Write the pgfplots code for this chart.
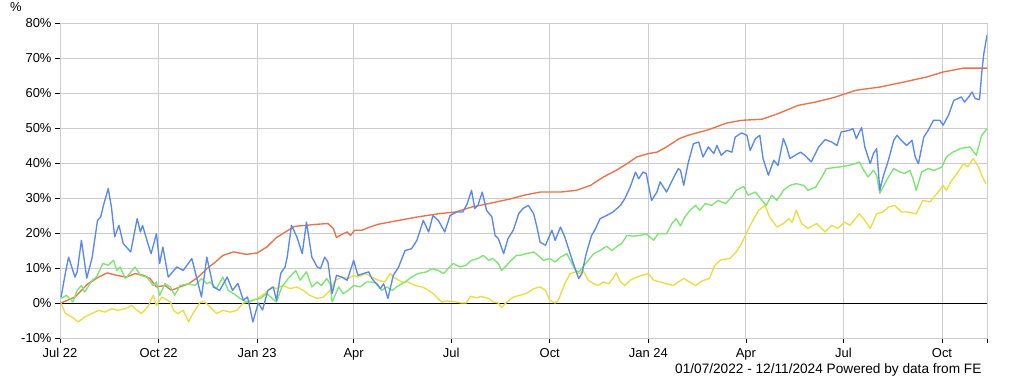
\documentclass[border=0pt]{standalone}
\usepackage{pgfplots}
\pgfplotsset{compat=1.18}
\usepackage{fontspec}
\setmainfont{Liberation Sans}
\definecolor{cblue}{RGB}{88,136,240}
\definecolor{corange}{RGB}{236,112,72}
\definecolor{cgreen}{RGB}{124,228,112}
\definecolor{cyellow}{RGB}{232,222,64}
\definecolor{cgrid}{RGB}{204,204,204}
\begin{document}
\begin{tikzpicture}
\begin{axis}[
  at={(0,0)}, anchor=south west,
  scale only axis, width=927bp, height=315bp,
  xmin=0, xmax=865, ymin=-10, ymax=80,
  ytick={-10,0,10,20,30,40,50,60,70,80},
  yticklabel={\pgfmathparse{int(\tick)}\pgfmathresult\%},
  xtick={0,92,184,274,365,457,549,640,731,823,865},
  xticklabels={Jul 22,Oct 22,Jan 23,Apr,Jul,Oct,Jan 24,Apr,Jul,Oct,},
  grid=major,
  grid style={cgrid, line width=0.9pt},
  axis line style={cgrid, line width=0.9pt},
  tick align=outside,
  xtick pos=bottom, ytick pos=left,
  major tick length=5bp,
  every tick/.style={black, line width=0.7pt},
  tick label style={font=\fontsize{13}{15}\selectfont, black},
  yticklabel style={xshift=0bp},
  xticklabel style={yshift=-2bp},
  clip=true,
  every axis plot/.append style={line width=1.35pt, line join=round},
]
\addplot[black, line width=1pt] coordinates {(0,0) (865,0)};
\addplot[corange] coordinates {
(1,0) (14,1.7) (26,5.5) (36,7.4) (44,8.6) (53,7.9) (62,7.4) (70,8.4) (78,7.9) (84,7.0)
(90,4.6) (98,5.0) (104,3.6) (112,4.6) (120,5.5) (129,7.4) (137,9.8) (145,11.7) (152,13.6)
(162,14.6) (174,13.9) (184,14.3) (193,16.0) (202,18.7) (213,20.8) (219,21.9) (230,22.2)
(240,22.5) (250,22.7) (255,21.3) (258,18.7) (263,19.6) (268,20.3) (271,19.3) (275,20.8)
(282,20.8) (289,21.7) (297,22.5) (316,23.6) (334,24.6) (353,25.5) (369,26.0) (384,27.4)
(403,28.6) (421,29.8) (433,30.8) (448,31.7) (467,31.7) (482,32.2) (495,33.6) (507,36.0)
(519,37.9) (529,39.8) (538,41.7) (549,42.7) (557,43.1) (566,44.6) (578,47.0) (586,47.9)
(605,49.5) (622,51.4) (636,52.2) (655,52.5) (670,54.1) (689,56.5) (705,57.4) (722,58.7)
(743,60.8) (765,61.7) (787,63.1) (809,64.6) (824,66.0) (843,67.1) (865,67.1)
};
\addplot[cyellow] coordinates {
(1,0) (5,-3.0) (11,-4.0) (17,-5.4) (23,-4.0) (30,-3.0) (36,-2.1) (42,-2.6) (48,-1.6)
(54,-2.1) (61,-1.6) (67,-0.7) (72,-2.1) (76,-3.0) (82,-1.1) (87,2.2) (90,-0.7) (95,1.7)
(103,0.3) (106,-2.1) (110,-3.0) (115,-2.1) (120,-5.4) (124,-3.0) (131,0.3) (135,0.3)
(140,-1.1) (146,-3.0) (152,-2.1) (159,-2.6) (165,-2.1) (171,0) (177,0.3) (184,1.3)
(191,2.7) (198,4.6) (202,4.1) (208,5.0) (215,4.1) (221,4.6) (227,3.6) (233,2.2) (240,1.3)
(246,1.7) (252,3.6) (257,6.5) (263,7.4) (269,7.0) (274,7.9) (278,7.4) (285,8.4) (291,7.4)
(297,6.5) (303,6.0) (308,8.4) (313,7.0) (319,6.0) (325,6.0) (331,5.0) (338,4.6) (344,3.6)
(350,2.2) (356,0.3) (362,0.6) (369,0.3) (375,0) (379,0) (383,1.9) (389,1.5) (393,1.9)
(400,1.3) (404,0.3) (409,0) (412,-1.3) (417,0.3) (423,1.7) (429,2.2) (435,2.7) (442,4.1)
(448,4.6) (453,3.6) (457,0.8) (462,0) (465,0.8) (468,3.1) (471,5.5) (476,8.4) (481,8.9)
(485,8.4) (488,9.3) (493,6.5) (498,5.5) (502,5.0) (507,6.0) (512,5.5) (516,7.0) (519,8.6)
(523,6.0) (527,5.0) (532,6.5) (538,7.4) (543,7.9) (549,8.4) (554,6.5) (560,6.0) (566,5.5)
(572,5.0) (582,7.0) (593,5.0) (599,6.3) (606,7.0) (611,10.8) (617,12.4) (625,12.7)
(631,14.6) (636,17.0) (641,20.3) (645,22.7) (652,26.5) (658,27.9) (662,24.6) (669,21.7)
(675,22.7) (680,24.1) (683,23.0) (687,26.5) (692,22.7) (698,21.3) (706,22.7) (714,20.3)
(720,22.2) (726,21.3) (732,23.1) (737,22.2) (746,25.5) (751,23.6) (756,21.3) (762,25.5)
(768,26.0) (773,27.4) (779,27.9) (785,26.0) (791,26.0) (799,25.5) (805,29.3) (812,28.9)
(818,31.2) (824,33.6) (827,32.2) (832,35.0) (837,37.0) (843,39.8) (847,38.9) (852,41.3)
(857,38.9) (860,36.5) (864,34.1)
};
\addplot[cgreen] coordinates {
(1,1.3) (6,2.2) (12,0.3) (16,3.6) (20,5.0) (23,3.1) (30,6.5) (34,7.4) (40,11.3) (45,10.8)
(50,12.2) (53,9.3) (56,10.3) (61,7.0) (65,8.4) (70,10.3) (75,7.9) (81,7.4) (87,5.0)
(90,6.0) (93,2.2) (98,5.5) (103,4.6) (107,2.2) (112,5.0) (120,5.5) (126,5.0) (132,7.0)
(137,5.5) (140,6.0) (146,4.1) (152,7.4) (157,3.6) (162,2.7) (168,1.3) (174,0.3) (180,0.8)
(187,1.3) (193,2.7) (198,1.3) (202,0.3) (207,4.6) (213,7.0) (220,9.3) (224,6.5) (230,8.9)
(235,4.6) (240,6.0) (244,5.0) (249,7.0) (252,5.5) (254,0.3) (260,4.6) (264,2.7) (269,3.6)
(274,5.0) (280,4.6) (286,6.0) (291,6.0) (296,5.5) (300,3.6) (305,4.6) (310,3.6) (316,5.0)
(322,6.0) (328,7.4) (334,8.4) (342,8.9) (347,9.8) (353,9.3) (358,8.4) (362,9.8) (367,11.3)
(373,10.3) (379,10.8) (384,12.2) (390,12.7) (395,13.6) (400,12.2) (404,12.7) (409,11.3)
(412,9.3) (417,10.8) (421,12.2) (426,13.6) (429,13.6) (435,14.1) (442,14.6) (446,13.6)
(451,12.2) (457,12.7) (462,11.7) (467,13.1) (473,14.1) (477,11.7) (481,9.3) (484,8.9)
(488,10.3) (493,12.2) (498,14.1) (504,15.0) (510,16.2) (515,15.0) (519,16.0) (524,17.0)
(529,19.3) (535,19.1) (541,19.3) (547,19.8) (554,17.9) (558,19.8) (566,19.8) (571,22.7)
(575,24.1) (579,22.0) (583,24.6) (588,26.5) (593,27.9) (597,26.5) (602,28.4) (608,27.9)
(614,29.3) (621,28.4) (627,30.3) (631,32.2) (638,33.3) (642,30.8) (649,31.7) (655,29.3)
(659,27.9) (664,30.8) (669,29.3) (675,32.2) (681,33.6) (687,34.1) (694,33.6) (698,32.2)
(705,33.1) (711,36.0) (715,38.4) (723,38.7) (728,38.9) (736,39.3) (742,39.8) (746,40.3)
(750,37.9) (754,36.0) (759,37.9) (762,36.5) (765,31.3) (768,33.1) (773,36.0) (778,38.4)
(784,37.4) (788,37.0) (793,37.9) (796,35.5) (799,32.2) (804,37.4) (810,38.4) (816,37.9)
(823,38.9) (827,41.7) (833,43.1) (841,44.2) (849,44.6) (855,42.2) (860,47.9) (865,49.8)
};
\addplot[cblue] coordinates {
(1,1.7) (5,8.5) (8,13.1) (14,7.4) (16,8.9) (20,17.9) (25,7.1) (30,13.0) (35,23.6) (38,24.6)
(41,28.4) (45,32.7) (48,27.4) (51,18.9) (55,22.2) (59,17.0) (66,14.6) (72,24.1) (75,20.3)
(77,22.2) (82,17.0) (85,14.1) (90,19.8) (93,11.3) (96,16.0) (101,7.4) (109,10.3) (115,9.3)
(123,12.7) (132,1.7) (137,13.1) (143,4.6) (149,3.6) (156,7.4) (161,3.6) (166,5.6) (171,0.8)
(175,1.7) (180,-5.4) (185,0) (189,-2.0) (194,3.6) (199,4.6) (202,0.8) (206,8.5) (210,10.3)
(212,13.1) (216,22.2) (221,18.9) (226,14.1) (230,23.1) (235,13.1) (240,10.3) (243,9.8)
(247,13.1) (250,11.7) (254,2.7) (258,7.9) (263,7.4) (268,6.5) (274,12.2) (278,7.9)
(283,8.4) (288,8.9) (291,7.0) (299,4.1) (302,5.5) (306,1.3) (311,7.9) (316,10.3) (322,15.0)
(328,15.5) (333,17.9) (339,23.6) (344,20.3) (348,25.0) (353,23.6) (359,20.3) (364,25.0)
(370,26.0) (376,26.0) (380,28.4) (384,32.2) (387,27.0) (390,27.9) (394,31.7) (398,26.5)
(403,24.6) (406,19.3) (409,18.4) (414,14.1) (418,18.4) (423,20.8) (428,25.5) (432,27.0)
(437,27.9) (442,25.5) (445,21.7) (448,17.4) (453,16.5) (459,20.8) (462,17.9) (467,21.7)
(471,18.9) (476,14.1) (479,11.3) (484,7.0) (487,8.4) (491,14.1) (496,19.3) (499,20.8)
(504,24.1) (510,25.0) (516,26.0) (523,27.9) (527,29.8) (532,33.1) (537,37.4) (540,35.5)
(544,37.4) (547,37.0) (552,29.3) (557,31.7) (560,34.6) (566,31.7) (572,35.5) (577,38.4)
(579,37.9) (582,33.6) (586,39.8) (591,45.5) (596,46.0) (600,41.7) (605,44.6) (610,42.7)
(613,45.0) (617,42.2) (622,43.6) (627,43.1) (630,47.4) (636,48.6) (641,47.9) (644,43.6)
(649,47.0) (653,47.9) (656,41.3) (661,36.5) (666,40.8) (670,39.3) (675,47.0) (678,44.6)
(681,41.3) (686,42.2) (691,43.1) (695,42.2) (701,40.3) (708,44.6) (714,46.7) (720,46.0)
(725,45.0) (729,48.9) (736,49.3) (740,49.8) (743,47.0) (748,50.1) (751,44.6) (756,39.8)
(759,42.7) (762,44.1) (765,32.2) (768,36.0) (773,40.8) (778,46.5) (781,47.9) (785,46.5)
(790,45.0) (795,46.5) (798,41.7) (801,39.8) (806,47.4) (810,49.3) (815,52.2) (821,52.2)
(824,50.8) (829,53.6) (834,57.9) (838,58.4) (841,58.9) (844,57.4) (848,58.9) (851,60.3)
(854,58.4) (858,58.1) (860,65.5) (862,71.2) (865,76.5)
};
\end{axis}
\node[font=\fontsize{13}{15}\selectfont] at (-44bp,330.5bp) {\%};
\node[font=\fontsize{13.7}{16}\selectfont, anchor=east] at (925bp,-32bp) {01/07/2022 - 12/11/2024 Powered by data from FE};
\pgfresetboundingbox
\path[use as bounding box] (-60bp,-42bp) rectangle (952bp,338bp);
\end{tikzpicture}
\end{document}
